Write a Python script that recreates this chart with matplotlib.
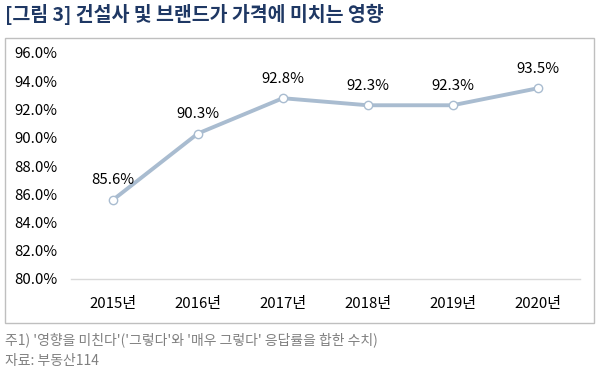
import matplotlib
matplotlib.use("Agg")
import matplotlib.pyplot as plt
from matplotlib.patches import Rectangle

plt.rcParams['font.family'] = ['Noto Sans CJK KR', 'DejaVu Sans']

years = ['2015년', '2016년', '2017년', '2018년', '2019년', '2020년']
values = [85.6, 90.3, 92.8, 92.3, 92.3, 93.5]
yticks = [80, 82, 84, 86, 88, 90, 92, 94, 96]

title = '[그림 3] 건설사 및 브랜드가 가격에 미치는 영향'
note1 = "주1) '영향을 미친다'('그렇다'와 '매우 그렇다' 응답률을 합한 수치)"
note2 = '자료: 부동산114'

W, H = 598, 372
fig = plt.figure(figsize=(W/100, H/100), dpi=100)

# outer box
fig.patches.append(Rectangle((5/W, 1-323/H), (594-5)/W, (323-38)/H,
                             transform=fig.transFigure, fill=False,
                             edgecolor='#BFBFBF', linewidth=1.0))

ax = fig.add_axes([70.5/W, 1-279/H, (580-70.5)/W, (279-53)/H])
x = list(range(len(years)))
line_color = '#A9BCD0'
ax.plot(x, values, color=line_color, linewidth=2.8, marker='o', markersize=6,
        markerfacecolor='white', markeredgecolor=line_color, markeredgewidth=1.0,
        clip_on=False, zorder=3)
for xi, v in zip(x, values):
    ax.annotate(f'{v:.1f}%', (xi, v), xytext=(0, 9), textcoords='offset points',
                ha='center', va='bottom', fontsize=10.8, color='#000000')

ax.set_xlim(-0.5, len(years)-0.5)
ax.set_ylim(80, 96)
ax.set_yticks(yticks)
ax.set_yticklabels([f'{t:.1f}%' for t in yticks])
ax.set_xticks(x)
ax.set_xticklabels(years)
for s in ['top', 'right', 'left']:
    ax.spines[s].set_visible(False)
ax.spines['bottom'].set_color('#D9D9D9')
ax.spines['bottom'].set_linewidth(1.0)
ax.tick_params(axis='both', length=0, labelsize=10.8, colors='#000000')
ax.tick_params(axis='y', pad=9.5)
ax.tick_params(axis='x', pad=13)
for lab in ax.get_yticklabels():
    lab.set_horizontalalignment('right')

fig.text(5/W, 1-14/H, title, fontsize=14, fontweight='bold', color='#1F3864',
         ha='left', va='center')
fig.text(5/W, 1-340/H, note1, fontsize=10, color='#808080', ha='left', va='center')
fig.text(5/W, 1-361/H, note2, fontsize=10, color='#808080', ha='left', va='center')

fig.savefig('out.png', dpi=100)
